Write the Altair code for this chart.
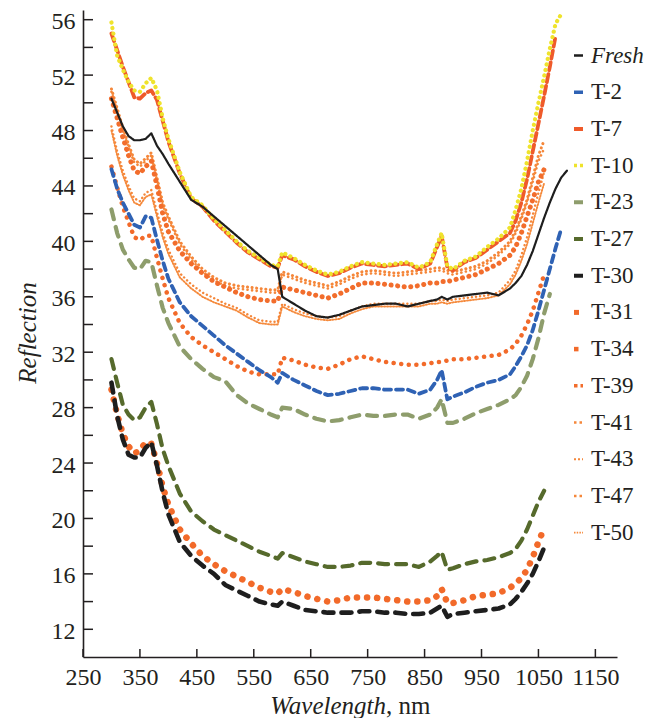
import altair as alt
import pandas as pd
import numpy as np

NAN = float("nan")

WL = [300, 310, 320, 330, 340, 350, 360, 370, 380, 390, 400, 420, 440, 460, 480, 500,
      520, 540, 560, 580, 592, 600, 620, 640, 660, 680, 700, 720, 740, 760, 780, 800,
      820, 840, 860, 872, 880, 890, 900, 920, 940, 960, 980, 1000, 1010, 1020, 1030,
      1040, 1050, 1060, 1070, 1080, 1090, 1100]

FRESH = [50.3, 49.3, 48.3, 47.6, 47.3, 47.3, 47.4, 47.8, 46.9, 46.3, 45.6, 44.3, 43.0, 42.5, 41.8, 41.1,
         40.4, 39.7, 39.0, 38.3, 38.0, 36.0, 35.5, 35.0, 34.6, 34.5, 34.7, 35.0, 35.3, 35.4, 35.5, 35.5,
         35.3, 35.5, 35.7, 35.8, 36.0, 35.8, 36.0, 36.1, 36.2, 36.3, 36.1, 36.6, 37.0, 37.5, 38.3,
         39.3, 40.5, 41.7, 42.8, 43.8, 44.6, 45.1]
T2 = [45.2, 43.8, 42.8, 42.0, 41.2, 41.0, 41.8, 41.7, 40.1, 38.6, 37.3, 35.6, 34.6, 33.9, 33.2, 32.5,
      31.9, 31.3, 30.7, 30.2, 29.8, 30.5, 30.0, 29.6, 29.2, 28.9, 29.0, 29.2, 29.4, 29.4, 29.3, 29.3,
      29.3, 29.0, 29.3, 30.0, 30.7, 28.6, 28.8, 29.1, 29.5, 29.8, 30.0, 30.4, 31.0, 31.7, 32.5,
      33.6, 35.0, 36.5, 38.0, 39.5, 40.9, NAN]
T7 = [55.0, 53.8, 52.6, 51.5, 50.4, 50.3, 50.7, 50.9, 50.2, 48.7, 47.2, 44.9, 43.1, 42.5, 41.5, 40.7,
      39.9, 39.2, 38.7, 38.2, 38.1, 39.0, 38.7, 38.2, 37.8, 37.5, 37.7, 38.1, 38.4, 38.3, 38.2, 38.3,
      38.4, 38.0, 38.4, 39.6, 40.4, 38.1, 37.9, 38.5, 38.8, 39.4, 40.0, 40.6, 41.5, 42.8, 44.5,
      46.5, 48.5, 50.5, 52.6, 54.8, NAN, NAN]
T10 = [55.8, 53.4, 52.4, 51.5, 50.9, 50.8, 51.4, 51.8, 50.9, 48.9, 47.4, 45.0, 43.2, 42.6, 41.6, 40.8,
       40.0, 39.3, 38.8, 38.3, 38.2, 39.2, 38.8, 38.3, 37.9, 37.6, 37.8, 38.2, 38.5, 38.4, 38.3, 38.4,
       38.5, 38.1, 38.5, 39.8, 40.6, 38.2, 38.0, 38.6, 38.9, 39.6, 40.2, 41.0, 42.3, 43.8, 45.8,
       48.0, 50.0, 51.9, 53.9, 55.7, 56.4, NAN]
T23 = [42.3, 40.6, 39.4, 38.7, 38.1, 38.0, 38.6, 38.5, 36.8, 35.2, 34.1, 32.4, 31.5, 30.8, 30.2, 29.9,
       28.9, 28.3, 27.9, 27.5, 27.3, 28.0, 27.9, 27.5, 27.2, 27.0, 27.1, 27.3, 27.5, 27.4, 27.4, 27.5,
       27.5, 27.2, 27.5, 28.0, 28.6, 26.9, 26.9, 27.2, 27.6, 27.9, 28.2, 28.6, 28.9, 29.5, 30.3,
       31.5, 33.0, 34.8, 36.2, NAN, NAN, NAN]
T27 = [31.5, 29.8, 28.2, 27.5, 27.1, 27.3, 28.0, 28.4, 26.8, 25.0, 23.8, 21.8, 20.5, 19.8, 19.2, 18.8,
       18.4, 18.0, 17.6, 17.3, 17.1, 17.5, 17.2, 16.9, 16.7, 16.5, 16.5, 16.6, 16.8, 16.8, 16.7, 16.7,
       16.7, 16.5, 16.9, 17.3, 17.6, 16.3, 16.4, 16.7, 16.9, 17.0, 17.2, 17.5, 17.8, 18.4, 19.2,
       20.2, 21.2, 22.0, NAN, NAN, NAN, NAN]
T30 = [29.8, 27.4, 25.7, 24.6, 24.4, 24.4, 25.1, 25.5, 23.8, 21.9, 20.3, 18.3, 17.3, 16.6, 16.0, 15.2,
       14.8, 14.4, 14.0, 13.8, 13.7, 14.0, 13.7, 13.4, 13.3, 13.2, 13.2, 13.2, 13.3, 13.3, 13.2, 13.2,
       13.1, 13.1, 13.2, 13.5, 13.7, 12.9, 13.1, 13.2, 13.3, 13.4, 13.5, 13.8, 14.2, 14.7, 15.3,
       16.0, 16.9, 17.9, NAN, NAN, NAN, NAN]
T31 = [29.3, 27.5, 26.1, 25.2, 24.7, 24.9, 25.5, 25.4, 24.0, 22.3, 21.0, 19.2, 18.2, 17.3, 16.7, 16.2,
       15.8, 15.4, 15.0, 14.7, 14.6, 14.9, 14.7, 14.4, 14.2, 14.0, 14.1, 14.3, 14.3, 14.3, 14.2, 14.1,
       14.0, 14.0, 14.1, 14.4, 14.9, 13.9, 13.9, 14.1, 14.4, 14.5, 14.6, 15.0, 15.3, 15.7, 16.3,
       17.2, 18.3, 19.3, NAN, NAN, NAN, NAN]
T34 = [45.4, 43.9, 42.5, 41.4, 40.3, 40.1, 40.4, 40.4, 38.8, 37.3, 35.9, 34.1, 33.1, 32.5, 32.0, 31.5,
       31.0, 30.6, 30.4, 30.4, 30.4, 31.6, 31.4, 31.1, 30.9, 30.8, 31.1, 31.5, 31.7, 31.5, 31.3, 31.2,
       31.1, 31.1, 31.2, 31.3, 31.3, 31.4, 31.5, 31.5, 31.6, 31.7, 31.8, 32.2, 32.6, 33.2, 34.0,
       35.0, 36.3, 37.6, NAN, NAN, NAN, NAN]
T39 = [50.3, 48.9, 47.5, 46.2, 45.1, 44.9, 45.4, 45.8, 44.0, 42.0, 40.7, 39.3, 38.4, 37.7, 37.1, 36.7,
       36.3, 36.0, 35.8, 35.7, 35.7, 36.7, 36.5, 36.3, 36.1, 35.9, 36.2, 36.6, 37.0, 37.0, 36.9, 36.8,
       36.7, 36.8, 37.0, 37.0, 37.1, 37.1, 37.2, 37.4, 37.6, 38.0, 38.4, 39.0, 39.6, 40.6, 41.8,
       43.0, 44.3, 45.2, NAN, NAN, NAN, NAN]
T41 = [51.0, 49.6, 48.2, 47.0, 45.9, 45.6, 46.0, 46.4, 44.6, 42.8, 41.8, 40.0, 38.9, 38.0, 37.4, 37.0,
       36.8, 36.7, 36.6, 36.5, 36.5, 37.8, 37.5, 37.2, 37.0, 36.8, 37.1, 37.5, 37.8, 37.9, 37.8, 37.7,
       37.8, 37.9, 38.0, 38.1, 38.1, 37.9, 37.8, 38.0, 38.2, 38.6, 39.2, 40.0, 40.8, 41.8, 43.0,
       44.6, 46.2, 47.3, NAN, NAN, NAN, NAN]
T43 = [48.3, 46.5, 45.1, 44.0, 43.1, 42.9, 43.5, 43.7, 42.1, 40.6, 39.4, 37.7, 36.9, 36.3, 35.9, 35.5,
       35.2, 34.7, 34.3, 34.2, 34.2, 35.5, 35.1, 34.8, 34.6, 34.5, 34.6, 35.0, 35.3, 35.5, 35.5, 35.5,
       35.5, 35.5, 35.7, 35.7, 35.8, 35.7, 35.8, 35.9, 36.0, 36.1, 36.3, 37.2, 37.9, 39.0, 40.3,
       41.9, 43.5, 45.0, NAN, NAN, NAN, NAN]
T47 = [50.8, 49.4, 48.0, 46.8, 45.7, 45.4, 45.8, 46.2, 44.4, 42.6, 41.6, 39.8, 38.7, 37.8, 37.2, 36.8,
       36.6, 36.5, 36.4, 36.3, 36.3, 37.6, 37.3, 37.0, 36.8, 36.6, 36.9, 37.3, 37.6, 37.7, 37.6, 37.5,
       37.6, 37.7, 37.8, 37.9, 37.9, 37.7, 37.6, 37.8, 38.0, 38.4, 39.0, 39.8, 40.6, 41.6, 42.8,
       44.3, 45.8, 46.7, NAN, NAN, NAN, NAN]
T50 = [48.0, 46.2, 44.8, 43.7, 42.8, 42.6, 43.2, 43.4, 41.8, 40.3, 39.1, 37.4, 36.6, 36.0, 35.6, 35.3,
       35.0, 34.5, 34.1, 34.0, 34.0, 35.3, 34.9, 34.6, 34.4, 34.3, 34.4, 34.8, 35.1, 35.3, 35.3, 35.3,
       35.3, 35.3, 35.5, 35.5, 35.6, 35.5, 35.6, 35.7, 35.8, 35.9, 36.1, 36.9, 37.6, 38.6, 39.8,
       41.3, 42.8, 44.2, NAN, NAN, NAN, NAN]

SERIES = ["Fresh", "T-2", "T-7", "T-10", "T-23", "T-27", "T-30", "T-31", "T-34",
          "T-39", "T-41", "T-43", "T-47", "T-50"]
VALUES = [FRESH, T2, T7, T10, T23, T27, T30, T31, T34, T39, T41, T43, T47, T50]

COLORS = ["#1e1e1e", "#2f62b4", "#ef5a2a", "#efe32c", "#8e9d6c", "#566a2c", "#1e1e1e",
          "#f26a2a", "#f26a2a", "#f26d2c", "#f5873a", "#f5873a", "#f5873a", "#f58a3c"]
DASHES = [[1, 0], [7, 5], [8, 4], [0.1, 5.5], [10, 8], [10, 8], [10, 8],
          [0.1, 10], [0.1, 7.5], [0.1, 6.5], [0.1, 4.5], [0.1, 4], [0.1, 4.5], [1.2, 1.8]]
WIDTHS = [2.2, 3.8, 3.8, 4.2, 4.2, 4.2, 4.6, 6.5, 4.5, 5, 3, 2.4, 2.6, 1.9]
LEGEND_DASH = [[1, 0], [1, 0], [1, 0], [3, 3], [1, 0], [1, 0], [1, 0],
               [5, 20], [4.5, 20], [3.5, 3], [2.5, 3], [2, 2], [2.5, 3], [1.5, 1.2]]
LEGEND_WIDTH = [2.5, 3.5, 4, 3.5, 4, 4, 4, 5, 4.5, 3.5, 2.5, 2, 2.5, 1.8]
DRAW_ORDER = ["T-50", "T-43", "T-47", "T-41", "T-39", "T-34", "T-31", "T-30", "T-27",
              "T-23", "T-7", "T-10", "T-2", "Fresh"]

Y_TICKS = list(range(12, 57, 2))
Y_LABELS = list(range(12, 57, 4))
X_TICKS = list(range(250, 1151, 100))

rows = []
for name, vals in zip(SERIES, VALUES):
    for w, v in zip(WL, vals):
        if not np.isnan(v):
            rows.append({"series": name, "wl": w, "r": v})
df = pd.DataFrame(rows)

FONT = "Liberation Serif, Times New Roman, DejaVu Serif, serif"
INK = "#231f20"


def by_label(values, default):
    expr = default
    for name, val in zip(SERIES, values):
        expr = f"datum.label == '{name}' ? {val} : ({expr})"
    return {"expr": expr}


xscale = alt.Scale(domain=[250, 1188], nice=False, zero=False)
yscale = alt.Scale(domain=[10, 56.7], nice=False, zero=False)
xaxis = alt.Axis(values=X_TICKS, ticks=False, grid=False, title=None, format="d",
                 labelFont=FONT, labelFontSize=24, labelColor=INK, labelPadding=8,
                 labelFlush=False, domainColor=INK, domainWidth=1.6)
yaxis = alt.Axis(values=Y_LABELS, ticks=False, grid=False, title=None, format="d",
                 labelFont=FONT, labelFontSize=24, labelColor=INK, labelPadding=8,
                 labelOffset=2, domainColor=INK, domainWidth=1.6)
cscale = alt.Scale(domain=SERIES, range=COLORS)
legend = alt.Legend(orient="none", legendX=484, legendY=34, title=None,
                    labelFont=FONT, labelFontSize=23, labelColor=INK,
                    labelFontStyle={"expr": "datum.label == 'Fresh' ? 'italic' : 'normal'"},
                    symbolType="stroke", symbolSize=81,
                    symbolStrokeWidth=by_label(LEGEND_WIDTH, 3),
                    symbolDash=by_label(LEGEND_DASH, "[1, 0]"),
                    labelOffset=1, rowPadding=12.7, padding=0)

layers = []
for name in DRAW_ORDER:
    i = SERIES.index(name)
    layers.append(
        alt.Chart(df[df.series == name]).mark_line(
            strokeCap="round", strokeJoin="round", strokeDash=DASHES[i], strokeWidth=WIDTHS[i]
        ).encode(
            x=alt.X("wl:Q", scale=xscale, axis=xaxis),
            y=alt.Y("r:Q", scale=yscale, axis=yaxis),
            color=alt.Color("series:N", scale=cscale, legend=legend),
            order=alt.Order("wl:Q"),
        )
    )

ytick_df = pd.DataFrame({"r": Y_TICKS})
xtick_df = pd.DataFrame({"wl": X_TICKS})

yticks = alt.Chart(ytick_df).mark_rule(color=INK, strokeWidth=1.5).encode(
    y=alt.Y("r:Q", scale=yscale, axis=yaxis), x=alt.value(0), x2=alt.value(10))
xticks = alt.Chart(xtick_df).mark_rule(color=INK, strokeWidth=1.5).encode(
    x=alt.X("wl:Q", scale=xscale, axis=xaxis), y=alt.value(647), y2=alt.value(639))

title_df = pd.DataFrame({"a": ["Wavelength"], "b": [", nm"], "c": ["Reflection"]})
xt1 = alt.Chart(title_df).mark_text(font=FONT, fontSize=25, fontStyle="italic", align="right",
                                    baseline="alphabetic", color=INK).encode(
    x=alt.value(303), y=alt.value(704), text="a:N")
xt2 = alt.Chart(title_df).mark_text(font=FONT, fontSize=25, align="left",
                                    baseline="alphabetic", color=INK).encode(
    x=alt.value(303), y=alt.value(704), text="b:N")
yt = alt.Chart(title_df).mark_text(font=FONT, fontSize=25, fontStyle="italic", align="center",
                                   baseline="middle", angle=270, color=INK).encode(
    x=alt.value(-55), y=alt.value(323), text="c:N")

chart = alt.layer(*layers, yticks, xticks, xt1, xt2, yt).properties(
    width=534, height=647,
    autosize=alt.AutoSizeParams(type="none"),
    padding={"left": 75, "top": 2, "right": 42, "bottom": 61},
).configure_view(stroke=None)

chart.save("out.html", embed_options={"renderer": "svg", "actions": False})
